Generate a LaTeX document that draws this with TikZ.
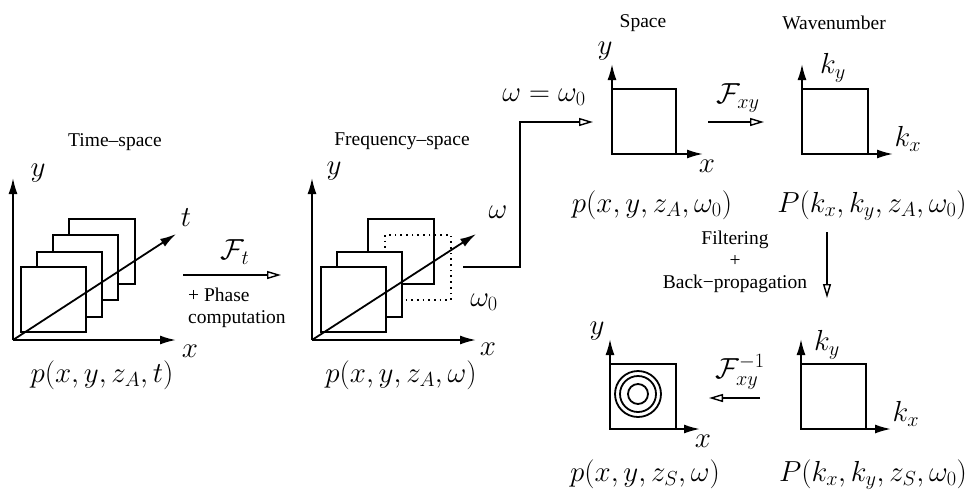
\RequirePackage{fix-cm}
\documentclass[tikz,border=0pt]{standalone}
\usepackage[no-math]{fontspec}
\setmainfont{Liberation Serif}
\usetikzlibrary{arrows.meta}
\tikzset{
  ln/.style={line width=1.8pt},
  ax/.style={ln, -{Latex[length=16pt,width=9pt]}},
  sq/.style={ln, draw, fill=white},
  dsq/.style={line width=1.7pt, dash pattern=on 1.7pt off 4pt},
  op/.style={ln, -{Triangle[open,length=14pt,width=8pt,line width=1.4pt]}},
  mt/.style={inner sep=0pt, font=\fontsize{29}{34}\selectfont},
  tt/.style={inner sep=0pt, font=\fontsize{19.5}{22}\selectfont},
}
\begin{document}
\begin{tikzpicture}[x=1pt,y=-1pt]
\useasboundingbox (0,0) rectangle (972,491);
% ---------- panel 1: time-space ----------
\node[tt] (tsp) at (115,142) {Time–space};
\draw[sq] (69,219) rectangle (135,284);
\draw[sq] (53,235) rectangle (118,300);
\draw[sq] (37,252) rectangle (102,317);
\draw[sq] (21,267) rectangle (86,332);
\coordinate (o1) at (13,340);
\coordinate (y1) at (13,178);
\coordinate (x1) at (176,340);
\coordinate (t1) at (176,234);
\draw[ax] (o1) -- (y1);
\draw[ax] (o1) -- (x1);
\draw[ax] (o1) -- (t1);
\node[mt] (ly1) at (38,173) {$y$};
\node[mt] (lx1) at (190,351) {$x$};
\node[mt] (lt1) at (186,218) {$t$};
\node[mt, anchor=base] (p1) at (102,382) {$p(x,y,z_A,t)$};
% F_t arrow
\coordinate (fa) at (183,275);
\coordinate (fb) at (281,275);
\draw[op] (fa) -- (fb);
\node[mt] (ft) at (235,252) {$\mathcal{F}_t$};
\node[tt, align=left, anchor=west] (phase) at (188,308) {+ Phase\\computation};
% ---------- panel 2: frequency-space ----------
\node[tt] (fsp) at (402,141) {Frequency–space};
\draw[sq] (368,219) rectangle (434,284);
\draw[dsq] (385,235) rectangle (451,300);
\draw[sq] (337,252) rectangle (402,317);
\draw[sq] (321,267) rectangle (386,332);
\coordinate (o2) at (312,340);
\coordinate (y2) at (312,178);
\coordinate (x2) at (476,340);
\coordinate (w2) at (476,234);
\draw[ax] (o2) -- (y2);
\draw[ax] (o2) -- (x2);
\draw[ax] (o2) -- (w2);
\node[mt] (ly2) at (334,171) {$y$};
\node[mt] (lx2) at (488,349) {$x$};
\node[mt] (lw2) at (498,212) {$\omega$};
\node[mt] (lw0) at (484,302) {$\omega_0$};
\node[mt, anchor=base] (p2) at (401,382) {$p(x,y,z_A,\omega)$};
% select omega0
\coordinate (sa) at (463,267);
\coordinate (sb) at (520,267);
\coordinate (sc) at (520,122);
\coordinate (sd) at (593,122);
\draw[op] (sa) -- (sb) -- (sc) -- (sd);
\node[mt] (weq) at (544,97) {$\omega=\omega_0$};
% ---------- panel 3: space ----------
\node[tt] (spc) at (643,23) {Space};
\draw[ln] (612,89) rectangle (676,154);
\coordinate (o3) at (612,154);
\coordinate (y3) at (612,64);
\coordinate (x3) at (703,154);
\draw[ax] (o3) -- (y3);
\draw[ax] (o3) -- (x3);
\node[mt] (ly3) at (605,51) {$y$};
\node[mt] (lx3) at (707,166) {$x$};
\node[mt, anchor=base] (p3) at (652,212) {$p(x,y,z_A,\omega_0)$};
% F_xy
\coordinate (ga) at (708,122);
\coordinate (gb) at (764,122);
\draw[op] (ga) -- (gb);
\node[mt] (fxy) at (738,98) {$\mathcal{F}_{xy}$};
% ---------- panel 4: wavenumber ----------
\node[tt] (wvn) at (834,23) {Wavenumber};
\draw[ln] (802,89) rectangle (868,154);
\coordinate (o4) at (802,154);
\coordinate (y4) at (802,64);
\coordinate (x4) at (893,154);
\draw[ax] (o4) -- (y4);
\draw[ax] (o4) -- (x4);
\node[mt] (lky4) at (833,68) {$k_y$};
\node[mt] (lkx4) at (908,139) {$k_x$};
\node[mt, anchor=base] (p4) at (872,212) {$P(k_x,k_y,z_A,\omega_0)$};
% filtering
\coordinate (ha) at (827,232);
\coordinate (hb) at (827,298);
\draw[op] (ha) -- (hb);
\node[tt, align=center] (filt) at (735,262) {Filtering\\+\\Back−propagation};
% ---------- panel 6: wavenumber at z_S ----------
\draw[ln] (801,364) rectangle (866,429);
\coordinate (o6) at (801,429);
\coordinate (y6) at (801,339);
\coordinate (x6) at (891,429);
\draw[ax] (o6) -- (y6);
\draw[ax] (o6) -- (x6);
\node[mt] (lky6) at (827,345) {$k_y$};
\node[mt] (lkx6) at (906,414) {$k_x$};
\node[mt, anchor=base] (p6) at (873,481) {$P(k_x,k_y,z_S,\omega_0)$};
% inverse F
\coordinate (ia) at (760,398);
\coordinate (ib) at (709,398);
\draw[op] (ia) -- (ib);
\node[mt] (fxyi) at (740,372) {$\mathcal{F}^{-1}_{xy}$};
% ---------- panel 5: space at z_S ----------
\draw[ln] (610,364) rectangle (676,429);
\coordinate (cc) at (638,394);
\draw[ln] (cc) circle (23);
\draw[ln] (cc) circle (18);
\draw[ln] (cc) circle (10);
\coordinate (o5) at (610,429);
\coordinate (y5) at (610,339);
\coordinate (x5) at (700,429);
\draw[ax] (o5) -- (y5);
\draw[ax] (o5) -- (x5);
\node[mt] (ly5) at (597,331) {$y$};
\node[mt] (lx5) at (703,441) {$x$};
\node[mt, anchor=base] (p5) at (645,481) {$p(x,y,z_S,\omega)$};
\end{tikzpicture}
\end{document}
